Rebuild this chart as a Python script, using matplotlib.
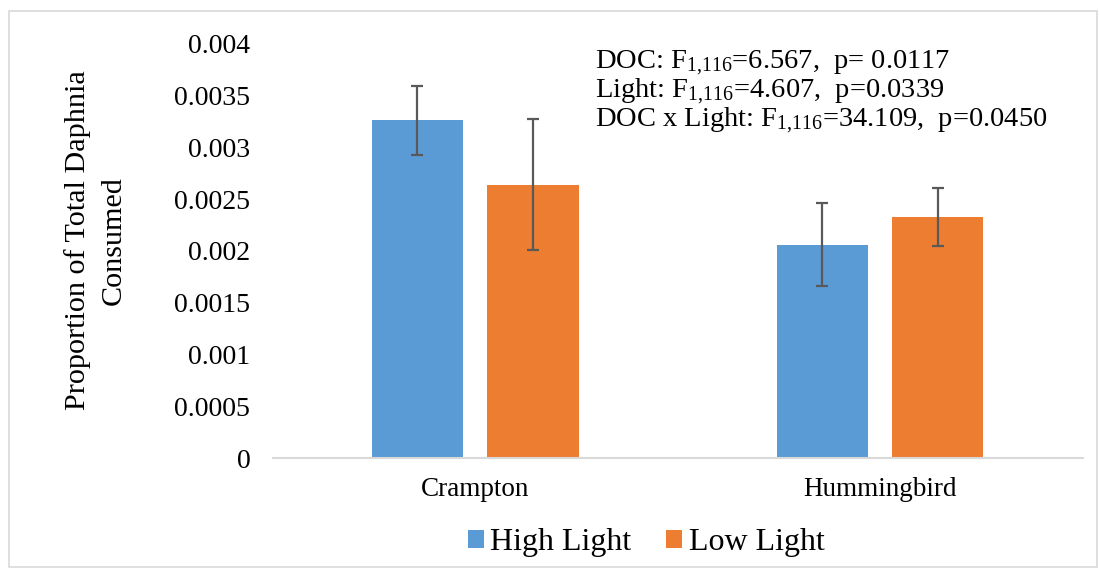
import matplotlib.pyplot as plt
import numpy as np
from matplotlib.patches import Rectangle

plt.rcParams['font.family'] = ['Liberation Serif', 'DejaVu Serif']
plt.rcParams['mathtext.fontset'] = 'custom'
plt.rcParams['mathtext.rm'] = 'Liberation Serif'
plt.rcParams['mathtext.it'] = 'Liberation Serif:italic'
plt.rcParams['mathtext.bf'] = 'Liberation Serif:bold'

# data
sites = ["Crampton", "Hummingbird"]
high_light = [0.00326, 0.00206]
high_light_err = [0.00033, 0.00040]
low_light = [0.00264, 0.00233]
low_light_err = [0.00063, 0.00028]
stats = [
    r"DOC: F$_{\mathrm{1{,}116}}$=6.567,  p= 0.0117",
    r"Light: F$_{\mathrm{1{,}116}}$=4.607,  p=0.0339",
    r"DOC x Light: F$_{\mathrm{1{,}116}}$=34.109,  p=0.0450",
]

blue = "#5B9BD5"
orange = "#ED7D31"
err_col = "#595959"

fig = plt.figure(figsize=(10.99, 5.69), dpi=100)
ax = fig.add_axes([0.248, 0.195, 0.737, 0.728])

x = np.arange(len(sites))
w = 0.225
off = 0.143
ekw = dict(ecolor=err_col, elinewidth=1.6, capsize=4.5, capthick=1.6)
ax.bar(x - off, high_light, w, yerr=high_light_err, color=blue, label="High Light", error_kw=ekw)
ax.bar(x + off, low_light, w, yerr=low_light_err, color=orange, label="Low Light", error_kw=ekw)

ax.set_xlim(-0.5, 1.5)
ax.set_ylim(0, 0.004)
ax.set_yticks(np.arange(0, 0.00401, 0.0005))
ax.set_yticklabels(["0", "0.0005", "0.001", "0.0015", "0.002", "0.0025", "0.003", "0.0035", "0.004"])
ax.set_xticks(x)
ax.set_xticklabels(sites, fontsize=19.5)
ax.tick_params(axis='y', labelsize=20, length=0, pad=16)
ax.tick_params(axis='x', length=0, pad=14)
for s in ["top", "right", "left"]:
    ax.spines[s].set_visible(False)
ax.spines["bottom"].set_color("#D9D9D9")
ax.spines["bottom"].set_linewidth(1.5)

fig.text(0.0869, 0.578, "Proportion of Total Daphnia\nConsumed", rotation=90,
         fontsize=21.7, ha="center", va="center", multialignment="center", linespacing=1.45)

# stats lines, baselines as in the reference
for txt, yb in zip(stats, [0.8787, 0.8278, 0.7768]):
    fig.text(0.541, yb, txt, fontsize=20.5, ha="left", va="baseline")

fig.legend(loc="center", bbox_to_anchor=(0.588, 0.046), ncol=2, frameon=False,
           fontsize=23, handlelength=0.5, handleheight=0.5, handletextpad=0.2, columnspacing=1.1)

fig.patches.append(Rectangle((0.008, 0.003), 0.99, 0.977, transform=fig.transFigure,
                             fill=False, edgecolor="#D9D9D9", linewidth=1.2))

fig.savefig("out.png", dpi=100)
